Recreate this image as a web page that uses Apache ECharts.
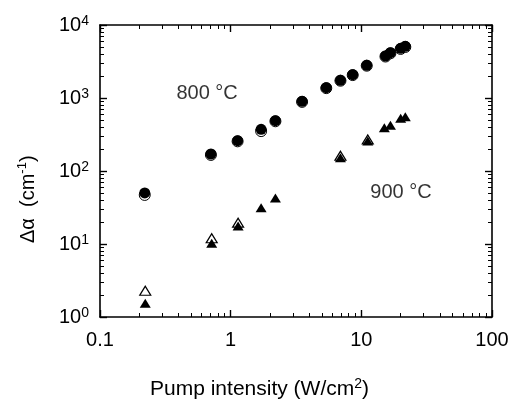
<!DOCTYPE html>
<html>
<head>
<meta charset="utf-8">
<script src="https://cdn.jsdelivr.net/npm/echarts@6/dist/echarts.min.js"></script>
<style>html,body{margin:0;padding:0;background:#fff}#c{width:519px;height:405px}</style>
</head>
<body>
<div id="c"></div>
<script>
// ---- data ----
var circleX = [0.22, 0.706, 1.13, 1.71, 2.2, 3.52, 5.39, 6.92, 8.59, 11.0, 15.3, 16.7, 20.0, 21.7];
var circleFilledY = [50, 171, 260, 372, 489, 901, 1384, 1747, 2086, 2805, 3760, 4176, 4790, 5106];
var circleOpenY = [47, 166, 255, 352, 480, 885, 1365, 1725, 2060, 2770, 3700, 4100, 4700, 5000];
var triFilledX = [0.222, 0.716, 1.14, 1.71, 2.2, 6.92, 11.2, 15.0, 16.7, 20.0, 21.7];
var triFilledY = [1.54, 10.2, 17.6, 31.4, 42.7, 152, 258, 392, 423, 527, 555];
var triOpenX = [0.222, 0.716, 1.14, 6.92, 11.2];
var triOpenY = [2.29, 11.97, 19.6, 162, 270];
var labels = [{text: '800 °C', x: 0.66, y: 1170}, {text: '900 °C', x: 20.1, y: 51.5}];

function pairs(xs, ys) { return xs.map(function (x, i) { return [x, ys[i]]; }); }

var FONT = 'Liberation Sans, Arial, sans-serif';
var chart = echarts.init(document.getElementById('c'));

// axis that carries only the labels and the axis line
function labelAxis(min, max, pos, label) {
  return {
    type: 'log', min: min, max: max, position: pos,
    splitLine: {show: false},
    axisLine: {show: true, onZero: false, lineStyle: {color: '#000', width: 1.6}},
    axisTick: {show: false},
    minorTick: {show: false},
    axisLabel: label
  };
}
// axis that carries the inward major and minor ticks
function tickAxis(min, max, pos, line) {
  return {
    type: 'log', min: min, max: max, position: pos,
    splitLine: {show: false},
    axisLine: {show: line, onZero: false, lineStyle: {color: '#000', width: 1.6}},
    axisTick: {show: true, inside: true, interval: 0, length: 7, lineStyle: {color: '#000', width: 1.4}},
    minorTick: {show: true, splitNumber: 9, length: 4, lineStyle: {color: '#000', width: 1}},
    axisLabel: {show: false}
  };
}

chart.setOption({
  animation: false,
  backgroundColor: '#fff',
  grid: {left: 100, top: 25, right: 27, bottom: 88},
  xAxis: [
    labelAxis(0.1, 100, 'bottom', {show: true, interval: 0, margin: 13, color: '#000', fontSize: 20, fontFamily: FONT,
      formatter: function (v) { return String(+(+v).toPrecision(3)); }}),
    tickAxis(0.1, 100, 'bottom', false),
    tickAxis(0.1, 100, 'top', true)
  ],
  yAxis: [
    labelAxis(1, 10000, 'left', {show: true, interval: 0, margin: 11, color: '#000', fontFamily: FONT,
      formatter: function (v) { return '{b|10}{s|' + Math.round(Math.log10(v)) + '}'; },
      rich: {b: {fontSize: 20, fontFamily: FONT, color: '#000', lineHeight: 22},
             s: {fontSize: 14, fontFamily: FONT, color: '#000', verticalAlign: 'top', lineHeight: 14, padding: [0, 0, 8, 0]}}}),
    tickAxis(1, 10000, 'left', false),
    tickAxis(1, 10000, 'right', true)
  ],
  series: [
    {type: 'scatter', name: 'open circles', data: pairs(circleX, circleOpenY), symbol: 'circle', symbolSize: 11,
      itemStyle: {color: '#fff', borderColor: '#000', borderWidth: 1, opacity: 1}, z: 2},
    {type: 'scatter', name: 'filled circles', data: pairs(circleX, circleFilledY), symbol: 'circle', symbolSize: 11,
      itemStyle: {color: '#000', opacity: 1}, z: 3},
    {type: 'scatter', name: 'open triangles', data: pairs(triOpenX, triOpenY), symbol: 'triangle', symbolSize: [11, 9],
      itemStyle: {color: '#fff', borderColor: '#000', borderWidth: 1.2, opacity: 1}, z: 2},
    {type: 'scatter', name: 'filled triangles', data: pairs(triFilledX, triFilledY), symbol: 'triangle', symbolSize: [11, 9],
      itemStyle: {color: '#000', opacity: 1}, z: 3},
    {type: 'scatter', name: 'labels', data: labels.map(function (l) { return {value: [l.x, l.y], name: l.text}; }),
      symbolSize: 0, silent: true,
      label: {show: true, position: 'inside', formatter: function (p) { return p.name; }, color: '#000', fontSize: 20, fontFamily: FONT}}
  ],
  graphic: [
    {type: 'text', left: 'center', top: 377, style: {text: '{a|Pump intensity (W/cm}{s|2}{a|)}', fill: '#000',
      rich: {a: {fontSize: 21, fontFamily: FONT, lineHeight: 24}, s: {fontSize: 14, fontFamily: FONT, verticalAlign: 'top', padding: [0, 0, 8, 0]}}}},
    {type: 'text', x: 16, y: 243, rotation: Math.PI / 2, style: {text: '{a|Δα  (cm}{s|-1}{a|)}', fill: '#000',
      rich: {a: {fontSize: 20, fontFamily: FONT, lineHeight: 24}, s: {fontSize: 13, fontFamily: FONT, verticalAlign: 'top', padding: [0, 0, 8, 0]}}}}
  ]
});
</script>
</body>
</html>
